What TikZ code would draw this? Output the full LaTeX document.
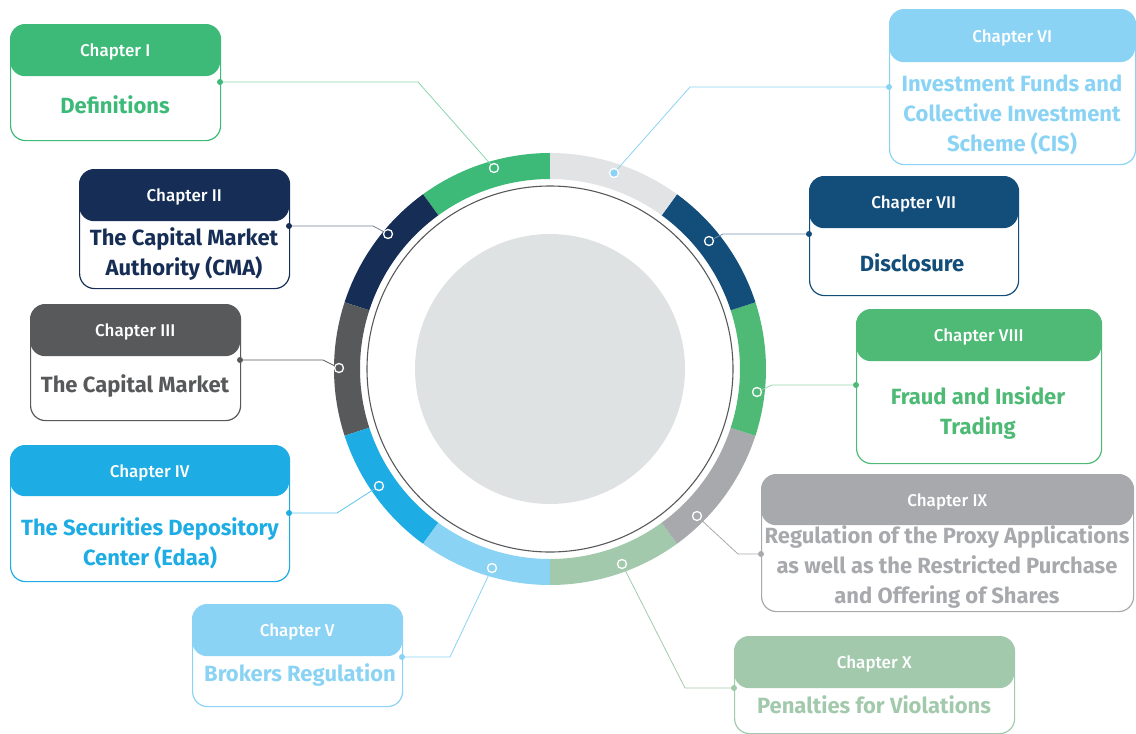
\documentclass[tikz,border=0pt]{standalone}
\usepackage{fontspec}
\setmainfont{Fira Sans}
\newfontfamily\hdrfont{Fira Sans Medium}
\definecolor{cI}{HTML}{3DB978}
\definecolor{cII}{HTML}{162E55}
\definecolor{cIII}{HTML}{58595B}
\definecolor{cIV}{HTML}{1DACE3}
\definecolor{cV}{HTML}{8BD3F4}
\definecolor{cVI}{HTML}{8BD3F4}
\definecolor{cVII}{HTML}{134D7A}
\definecolor{cVIII}{HTML}{4EBA76}
\definecolor{cIX}{HTML}{A7A9AC}
\definecolor{cX}{HTML}{A3C9AD}
\definecolor{ringVI}{HTML}{E1E3E4}
\definecolor{disk}{HTML}{DFE2E3}
\newcommand\ringseg[3]{\fill[#3] plot[domain=#1:#2,samples=40] ({550+216*cos(\x)},{369-216*sin(\x)}) -- plot[domain=#2:#1,samples=40] ({550+190*cos(\x)},{369-190*sin(\x)}) -- cycle;}
\begin{document}
\begin{tikzpicture}[x=1pt,y=-1pt,
 box/.style={draw, line width=1.2pt, rounded corners=15pt, inner sep=0pt, anchor=north west},
 hdr/.style={rounded corners=15pt, inner sep=0pt, anchor=north west, text=white, text depth=0pt, font=\hdrfont\fontsize{17}{20}\selectfont},
 body/.style={font=\fontsize{22}{30}\selectfont\bfseries, align=center, inner sep=0pt},
 rdot/.style={circle, draw=white, line width=1.3pt, minimum size=9pt, inner sep=0pt},
 bdot/.style={circle, minimum size=6pt, inner sep=0pt},
 conn/.style={line width=0.8pt}]
\useasboundingbox (0,0) rectangle (1136,734);
\coordinate (c) at (550,369);
% ring
\ringseg{90}{126}{cI}
\ringseg{126}{162}{cII}
\ringseg{162}{198}{cIII}
\ringseg{198}{234}{cIV}
\ringseg{234}{270}{cV}
\ringseg{270}{306}{cX}
\ringseg{306}{342}{cIX}
\ringseg{-18}{18}{cVIII}
\ringseg{18}{54}{cVII}
\ringseg{54}{90}{ringVI}
\draw[cIII, line width=1.1pt] (c) circle[radius=183];
\fill[disk] (c) circle[radius=135];
% ring dots
\node (d1) [rdot, fill=cI] at (494,168) {};
\node (d2) [rdot, fill=cII] at (388,234) {};
\node (d3) [rdot, fill=cIII] at (339,368) {};
\node (d4) [rdot, fill=cIV] at (379,486) {};
\node (d5) [rdot, fill=cV] at (492,568) {};
\node (d6) [rdot, fill=cVI] at (614,173) {};
\node (d7) [rdot, fill=cVII] at (709,241) {};
\node (d8) [rdot, fill=cVIII] at (757,392) {};
\node (d9) [rdot, fill=cIX] at (697,516) {};
\node (d10) [rdot, fill=cX] at (622,564) {};
% boxes
\node (b1) [box, draw=cI, minimum width=210pt, minimum height=116pt] at (10,24) {};
\node (h1) [hdr, fill=cI, minimum width=210pt, minimum height=52pt] at (10,24) {Chapter I};
\node (t1) [body, text=cI] at (115,105) {Definitions};

\node (b2) [box, draw=cII, minimum width=210pt, minimum height=119pt] at (79,169) {};
\node (h2) [hdr, fill=cII, minimum width=210pt, minimum height=52pt] at (79,169) {Chapter II};
\node (t2) [body, text=cII] at (184,254) {The Capital Market\\Authority (CMA)};

\node (b3) [box, draw=cIII, minimum width=210pt, minimum height=116pt] at (30,304) {};
\node (h3) [hdr, fill=cIII, minimum width=210pt, minimum height=52pt] at (30,304) {Chapter III};
\node (t3) [body, text=cIII] at (135,386) {The Capital Market};

\node (b4) [box, draw=cIV, minimum width=279pt, minimum height=136pt] at (10,445) {};
\node (h4) [hdr, fill=cIV, minimum width=279pt, minimum height=51pt] at (10,445) {Chapter IV};
\node (t4) [body, text=cIV] at (150,543) {The Securities Depository\\Center (Edaa)};

\node (b5) [box, draw=cV, minimum width=210pt, minimum height=102pt] at (192,604) {};
\node (h5) [hdr, fill=cV, minimum width=210pt, minimum height=52pt] at (192,604) {Chapter V};
\node (t5) [body, text=cV] at (300,675) {Brokers Regulation};

\node (b6) [box, draw=cVI, minimum width=246pt, minimum height=155pt] at (889,9) {};
\node (h6) [hdr, fill=cVI, minimum width=246pt, minimum height=53pt] at (889,9) {Chapter VI};
\node (t6) [body, text=cVI] at (1012,115) {Investment Funds and\\Collective Investment\\Scheme (CIS)};

\node (b7) [box, draw=cVII, minimum width=209pt, minimum height=119pt] at (809,176) {};
\node (h7) [hdr, fill=cVII, minimum width=209pt, minimum height=52pt] at (809,176) {Chapter VII};
\node (t7) [body, text=cVII] at (912,263) {Disclosure};

\node (b8) [box, draw=cVIII, minimum width=245pt, minimum height=154pt] at (856,309) {};
\node (h8) [hdr, fill=cVIII, minimum width=245pt, minimum height=52pt] at (856,309) {Chapter VIII};
\node (t8) [body, text=cVIII] at (978,413) {Fraud and Insider\\Trading};

\node (b9) [box, draw=cIX, minimum width=372pt, minimum height=137pt] at (761,474) {};
\node (h9) [hdr, fill=cIX, minimum width=372pt, minimum height=51pt] at (761,474) {Chapter IX};
\node (t9) [body, text=cIX] at (947,567) {Regulation of the Proxy Applications\\as well as the Restricted Purchase\\and Offering of Shares};

\node (b10) [box, draw=cX, minimum width=280pt, minimum height=97pt] at (734,636) {};
\node (h10) [hdr, fill=cX, minimum width=280pt, minimum height=52pt] at (734,636) {Chapter X};
\node (t10) [body, text=cX] at (874,705) {Penalties for Violations};
% box-side dots
\node (e1) [bdot, fill=cI] at (220,82) {};
\node (e2) [bdot, fill=cII] at (289,226) {};
\node (e3) [bdot, fill=cIII] at (240,360) {};
\node (e4) [bdot, fill=cIV] at (289,513) {};
\node (e5) [bdot, fill=cV] at (402,657) {};
\node (e6) [bdot, fill=cVI] at (889,87) {};
\node (e7) [bdot, fill=cVII] at (809,234) {};
\node (e8) [bdot, fill=cVIII] at (856,385) {};
\node (e9) [bdot, fill=cIX] at (761,554) {};
\node (e10) [bdot, fill=cX] at (734,688) {};
% connectors
\draw[conn, cI!60] (e1) -- (418,82) -- (d1);
\draw[conn, cII!60] (e2) -- (373,226) -- (d2);
\draw[conn, cIII] (e3) -- (323,360) -- (d3);
\draw[conn, cIV!70] (e4) -- (337,513) -- (d4);
\draw[conn, cV] (e5) -- (450,657) -- (d5);
\draw[conn, cVI] (e6) -- (690,87) -- (d6);
\draw[conn, cVII!60] (e7) -- (723,234) -- (d7);
\draw[conn, cVIII!60] (e8) -- (772,385) -- (d8);
\draw[conn, cIX] (e9) -- (738,554) -- (d9);
\draw[conn, cX] (e10) -- (685,688) -- (d10);
\end{tikzpicture}
\end{document}
